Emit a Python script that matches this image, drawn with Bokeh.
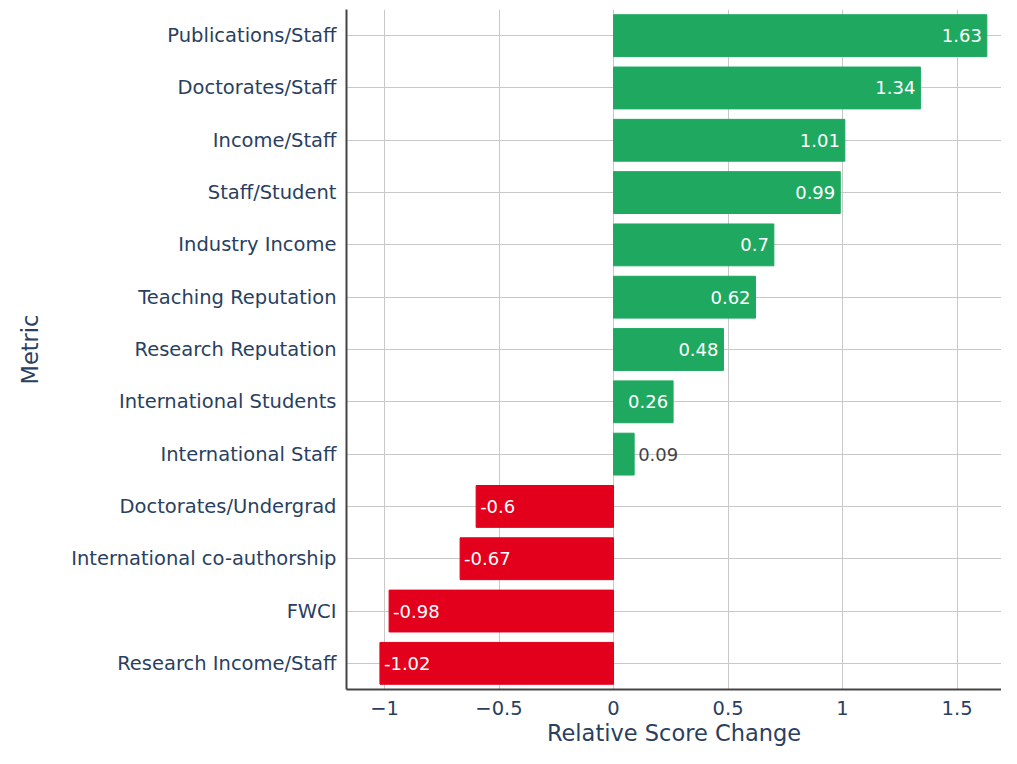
from bokeh.plotting import figure
from bokeh.models import ColumnDataSource, FactorRange, Range1d, FixedTicker
from bokeh.core.properties import value
from bokeh.embed import file_html
from bokeh.resources import INLINE

metrics = ["Publications/Staff", "Doctorates/Staff", "Income/Staff", "Staff/Student",
           "Industry Income", "Teaching Reputation", "Research Reputation",
           "International Students", "International Staff", "Doctorates/Undergrad",
           "International co-authorship", "FWCI", "Research Income/Staff"]
values = [1.63, 1.34, 1.01, 0.99, 0.7, 0.62, 0.48, 0.26, 0.09, -0.6, -0.67, -0.98, -1.02]
tick_values = [-1, -0.5, 0, 0.5, 1, 1.5]
tick_labels = ["\u22121", "\u22120.5", "0", "0.5", "1", "1.5"]

GREEN = "#1fa960"
RED = "#e2001c"
FONT = "DejaVu Sans"
TXT = "#2a3f5f"

colors = [GREEN if v >= 0 else RED for v in values]
labels = [str(v) for v in values]
inside = [abs(v) >= 0.15 for v in values]

src = ColumnDataSource(dict(y=metrics, v=values, c=colors))

p = figure(width=1001, height=748, output_backend="svg", toolbar_location=None,
           y_range=FactorRange(factors=list(reversed(metrics)), range_padding=0),
           x_range=Range1d(-1.166, 1.694),
           min_border_left=346, min_border_right=0, min_border_top=9, min_border_bottom=56)
p.outline_line_color = None
p.background_fill_color = "white"

p.hbar(y="y", left=0, right="v", height=0.8, color="c", source=src)

# labels
pos_in = dict(x=[], y=[], t=[])
neg_in = dict(x=[], y=[], t=[])
out = dict(x=[], y=[], t=[])
for m, v, t, ins in zip(metrics, values, labels, inside):
    if not ins:
        out["x"].append(v); out["y"].append(m); out["t"].append(t)
    elif v >= 0:
        pos_in["x"].append(v); pos_in["y"].append(m); pos_in["t"].append(t)
    else:
        neg_in["x"].append(v); neg_in["y"].append(m); neg_in["t"].append(t)

LBL = "18px"
p.text(x=pos_in["x"], y=pos_in["y"], text=pos_in["t"], text_align="right", text_baseline="middle",
       x_offset=-5, text_color="white", text_font=value(FONT), text_font_size=LBL)
p.text(x=neg_in["x"], y=neg_in["y"], text=neg_in["t"], text_align="left", text_baseline="middle",
       x_offset=4, text_color="white", text_font=value(FONT), text_font_size=LBL)
p.text(x=out["x"], y=out["y"], text=out["t"], text_align="left", text_baseline="middle",
       x_offset=4, text_color="#444444", text_font=value(FONT), text_font_size=LBL)

# axes
p.xaxis.ticker = FixedTicker(ticks=tick_values)
p.xaxis.major_label_overrides = {v: l for v, l in zip(tick_values, tick_labels)}
p.xaxis.axis_label = "Relative Score Change"
p.yaxis.axis_label = "Metric"
for ax in (p.xaxis, p.yaxis):
    ax.axis_line_color = "#444444"
    ax.axis_line_width = 2
    ax.major_tick_line_color = None
    ax.minor_tick_line_color = None
    ax.major_label_text_font = FONT
    ax.major_label_text_font_size = "19.5px"
    ax.major_label_text_color = TXT
    ax.axis_label_text_font = FONT
    ax.axis_label_text_font_size = "22.5px"
    ax.axis_label_text_font_style = "normal"
    ax.axis_label_text_color = TXT
p.xaxis.major_label_standoff = 5
p.xaxis.axis_label_standoff = 2
p.yaxis.major_label_standoff = 4
p.yaxis.axis_label_standoff = 25

p.xgrid.grid_line_color = "#c8c8c8"
p.ygrid.grid_line_color = "#c8c8c8"
p.xgrid.ticker = FixedTicker(ticks=tick_values)

open("out.html", "w").write(file_html(p, INLINE))
